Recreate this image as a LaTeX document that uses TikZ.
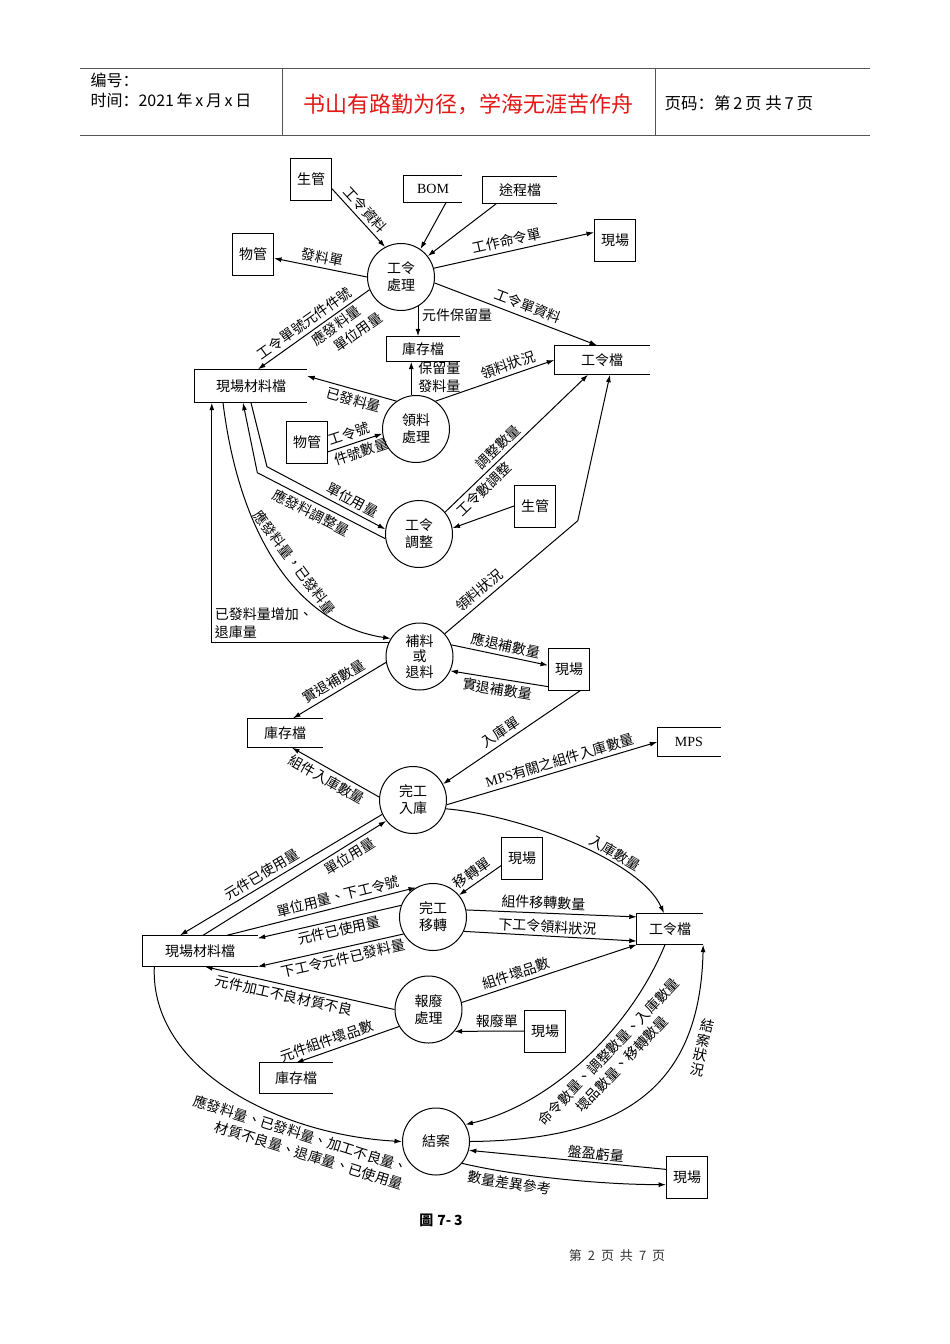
\documentclass[tikz,border=0pt]{standalone}
\usepackage{fontspec}
\setmainfont{Liberation Serif}
\newfontfamily\cjk{Noto Sans CJK TC}
\newfontfamily\cjksc{Noto Sans CJK SC}
\usetikzlibrary{arrows.meta, calc}
\definecolor{mottored}{RGB}{228, 22, 22}
\definecolor{rulegray}{RGB}{85, 85, 85}

\tikzset{
  flow/.style={-{Latex[length=7.5pt, width=5pt]}, line width=1pt,
    every node/.style={font=\cjk\fontsize{14}{18}\selectfont, inner sep=3.5pt}},
  proc/.style={circle, draw, line width=1pt, minimum size=67pt, inner sep=0pt,
    align=center, font=\cjk\fontsize{14}{17}\selectfont},
  ext/.style={draw, line width=1pt, minimum width=41pt, minimum height=42pt,
    inner sep=0pt, font=\cjk\fontsize{14}{16}\selectfont},
  store/.style={minimum height=27pt, inner sep=0pt, font=\cjk\fontsize{14}{16}\selectfont},
}

\begin{document}
\begin{tikzpicture}[x=1pt, y=-1pt]
  \fill[white] (0,0) rectangle (950,1344);
  \useasboundingbox (0,0) rectangle (950,1344);

  % page header
  \draw[rulegray, line width=1pt] (80,68) -- (870,68) (80,135) -- (870,135)
    (282,68) -- (282,135) (655,68) -- (655,135);
  \node[anchor=west, align=left, font=\cjksc\fontsize{16}{20}\selectfont] (hdl) at (87,90) {编号：\\时间：2021\,年\,x\,月\,x\,日};
  \node[text=mottored, font=\cjksc\fontsize{22}{24}\selectfont] (motto) at (468,104) {书山有路勤为径，学海无涯苦作舟};
  \node[anchor=west, font=\cjksc\fontsize{16.5}{20}\selectfont] (pg) at (661,103) {页码：第\,2\,页~共\,7\,页};

  % entities, stores and processes
  \node[ext] (sg1) at (311,179) {生管};
  \node[store, minimum width=58pt, minimum height=26pt] (bom) at (433,189) {\rmfamily BOM};
  \node[store, minimum width=74pt] (route) at (520,190) {途程檔};
  \node[ext] (wg1) at (253,254) {物管};
  \node[proc] (p1) at (401,277) {工令\\處理};
  \node[ext] (xc1) at (615,240) {現場};
  \node[store, minimum width=73pt, minimum height=25pt] (inv1) at (423,349) {庫存檔};
  \node[store, minimum width=95pt, minimum height=29pt] (wo1) at (602,360) {工令檔};
  \node[store, minimum width=112pt, minimum height=33pt] (mat1) at (251,386) {現場材料檔};
  \node[proc] (p2) at (416,429) {領料\\處理};
  \node[ext] (wg2) at (307,442) {物管};
  \node[proc] (p3) at (419,534) {工令\\調整};
  \node[ext] (sg2) at (535,506) {生管};
  \node[proc, font=\cjk\fontsize{14}{15.5}\selectfont] (p4) at (419.5,656.5) {補料\\或\\退料};
  \node[ext] (xc2) at (569,669) {現場};
  \node[store, minimum width=75pt, minimum height=29pt] (inv2) at (285,733) {庫存檔};
  \node[store, minimum width=63pt, minimum height=28pt] (mps) at (689,742) {\rmfamily MPS};
  \node[proc] (p5) at (413,800) {完工\\入庫};
  \node[ext] (xc3) at (522,858) {現場};
  \node[proc] (p6) at (433,917) {完工\\移轉};
  \node[store, minimum width=115pt, minimum height=31pt] (mat2) at (200,951) {現場材料檔};
  \node[store, minimum width=66pt, minimum height=31pt] (wo2) at (670,929) {工令檔};
  \node[proc] (p7) at (428.5,1009.5) {報廢\\處理};
  \node[ext] (xc4) at (545,1031) {現場};
  \node[store, minimum width=73pt, minimum height=30pt] (inv3) at (296,1078) {庫存檔};
  \node[proc] (p8) at (436,1141.5) {結案};
  \node[ext] (xc5) at (687,1177) {現場};

  % open-ended data stores
  \foreach \s in {bom, route, inv1, wo1, mat1, inv2, mps, mat2, wo2, inv3}
    \draw[line width=1pt] (\s.north east) -- (\s.north west) -- (\s.south west) -- (\s.south east);

  % 工令處理
  \draw[flow] (sg1.-25) -- node[sloped, above, pos=0.48] {工令資料} (p1.118);
  \draw[flow] (bom.-45) -- (p1.55);
  \draw[flow] (route.-150) -- (p1.38);
  \draw[flow] (p1.180) -- node[sloped, above] {發料單} (wg1);
  \draw[flow] (p1.15) -- node[sloped, above, pos=0.47] {工作命令單} (xc1.160);
  \draw[flow] (p1.-10) -- node[sloped, above, pos=0.55, inner sep=5pt] {工令單資料} ($(wo1.north)+(-5,0)$);
  \draw[flow] (p1.-60) -- node[right, pos=0.3] {元件保留量} (p1.-60 |- inv1.north);
  \draw[flow] (p1.-158) -- node[sloped, above, pos=0.53] {工令單號元件件號}
    node[sloped, below, pos=0.3, align=left, inner sep=2.5pt] {應發料量\\\hspace*{14pt}單位用量} ($(mat1.north)+(7,0)$);

  % 領料處理
  \draw[flow] (p2.125) -- node[sloped, below, pos=0.45] {已發料量} (mat1.10);
  \draw[flow] (p2.98) -- node[right=3pt, pos=0.55, align=left] {保留量\\發料量} (p2.98 |- inv1.south);
  \draw[flow] (p2.55) -- node[sloped, above, pos=0.64] {領料狀況} (wo1.west);
  \draw[flow] (wg2.-25) -- node[sloped, above, pos=0.45] {工令號}
    node[sloped, below, pos=0.55] {件號數量} (p2.188);

  % 工令調整
  \draw[flow] (p3.40) -- node[sloped, above, pos=0.42] {調整數量}
    node[sloped, below, pos=0.22] {工令數調整} ($(wo1.south)+(-14,0)$);
  \draw[flow] (sg2.west) -- (p3.10);
  \draw[flow] (mat1.south) -- ++(16,64) -- node[sloped, above, pos=0.68] {單位用量} (p3.172);
  \draw[flow] (p3.188) -- node[sloped, below, pos=0.54] {應發料調整量} ++(-128,-66) -- ($(mat1.south)+(-8,0)$);

  % 補料或退料
  \draw[flow] ($(mat1.south)+(-28,0)$) .. controls (240,540) and (300,625) ..
    node[sloped, above, pos=0.52, inner sep=8pt] {應發料量，已發料量} (p4.148);
  \draw[flow] (p4.155) -| node[pos=0.5, above right, align=left, inner sep=2.5pt] {已發料量增加、\\退庫量} ($(mat1.south west)+(17,0)$);
  \draw[flow] (p4.42) -- node[sloped, above, pos=0.31] {領料狀況} ++(133,-113) -- ($(wo1.south)+(8,0)$);
  \draw[flow] (p4.20) -- node[sloped, above, pos=0.54] {應退補數量} (xc2.170);
  \draw[flow] (xc2.-140) -- node[sloped, below] {實退補數量} (p4.-25);
  \draw[flow] (p4.190) -- node[sloped, above, pos=0.5] {實退補數量} ($(inv2.north)+(8,0)$);

  % 完工入庫
  \draw[flow] (xc2.-62) -- node[sloped, above, pos=0.54] {入庫單} (p5.28);
  \draw[flow] (p5.-8) -- node[sloped, above, pos=0.55] {{\rmfamily MPS}有關之組件入庫數量} (mps.west);
  \draw[flow] (p5.175) -- node[sloped, below, pos=0.54] {組件入庫數量} ($(inv2.south)+(7,0)$);
  \draw[flow] (p5.-15) .. controls (520,815) and (640,860) ..
    node[sloped, above, pos=0.65] {入庫數量} ($(wo2.north)+(-6,0)$);
  \draw[flow] (p5.205) -- node[sloped, above, pos=0.57] {元件已使用量} ($(mat2.north)+(-20,0)$);
  \draw[flow] ($(mat2.north)+(3,0)$) -- node[sloped, below, pos=0.77] {單位用量} (p5.218);

  % 完工移轉
  \draw[flow] ($(mat2.north)+(27,0)$) -- node[sloped, above, pos=0.6] {單位用量、下工令號} (p6.120);
  \draw[flow] (p6.160) -- node[sloped, below, pos=0.45] {元件已使用量} ($(mat2.north east)+(0,3)$);
  \draw[flow] (p6.-150) -- node[sloped, below, pos=0.43] {下工令元件已發料量} (mat2.south east);
  \draw[flow] (xc3.-160) -- node[sloped, above, pos=0.55] {移轉單} (p6.40);
  \draw[flow] (p6.12) -- node[sloped, above, pos=0.45] {組件移轉數量} (wo2.160);
  \draw[flow] (p6.-25) -- node[sloped, above, pos=0.48, inner sep=2.5pt] {下工令領料狀況} (wo2.-160);

  % 報廢處理
  \draw[flow] (p7.12) -- node[sloped, above, pos=0.33] {組件壞品數} (wo2.south west);
  \draw[flow] (xc4.west) -- node[above, pos=0.39] {報廢單} (p7.-40);
  \draw[flow] (p7.180) -- node[sloped, below, pos=0.57] {元件加工不良材質不良} ($(mat2.south)+(5,0)$);
  \draw[flow] (p7.-150) -- node[sloped, above, pos=0.67] {元件組件壞品數} (inv3.north);

  % 結案
  \draw[flow] ($(wo2.south)+(-5,0)$) .. controls (630,1030) and (550,1105) ..
    node[sloped, below, pos=0.42, align=center, inner sep=5pt] {命令數量、調整數量、入庫數量\\壞品數量、移轉數量} (p8.30);
  \draw[flow] (p8.0) .. controls (620,1140) and (700,1090) ..
    node[pos=0.72, right=9pt, rotate=-12, align=center, font=\cjk\fontsize{14}{15}\selectfont] {結\\案\\狀\\況} (wo2.south east);
  \draw[flow] ($(mat2.south west)+(12,0)$) .. controls (150,1070) and (280,1135) ..
    node[sloped, below, pos=0.73, align=right] {應發料量、已發料量、加工不良量、\\材質不良量、退庫量、已使用量} (p8.180);
  \draw[flow] (xc5.160) -- node[sloped, above, pos=0.36, inner sep=2pt] {盤盈虧量} (p8.-15);
  \draw[flow] (p8.-40) .. controls +(60,14) and +(-60,0) ..
    node[sloped, below, pos=0.25] {數量差異參考} (xc5.-160);

  % caption and footer
  \node[font=\cjk\bfseries\fontsize{14}{16}\selectfont] (cap) at (441,1220) {圖\hspace{4pt}7-\hspace{3pt}3};
  \node[font=\cjksc\fontsize{13}{15}\selectfont, text=black!80] (foot) at (617,1256) {第\hspace{6pt}2\hspace{6pt}页\hspace{6pt}共\hspace{6pt}7\hspace{6pt}页};
\end{tikzpicture}
\end{document}
